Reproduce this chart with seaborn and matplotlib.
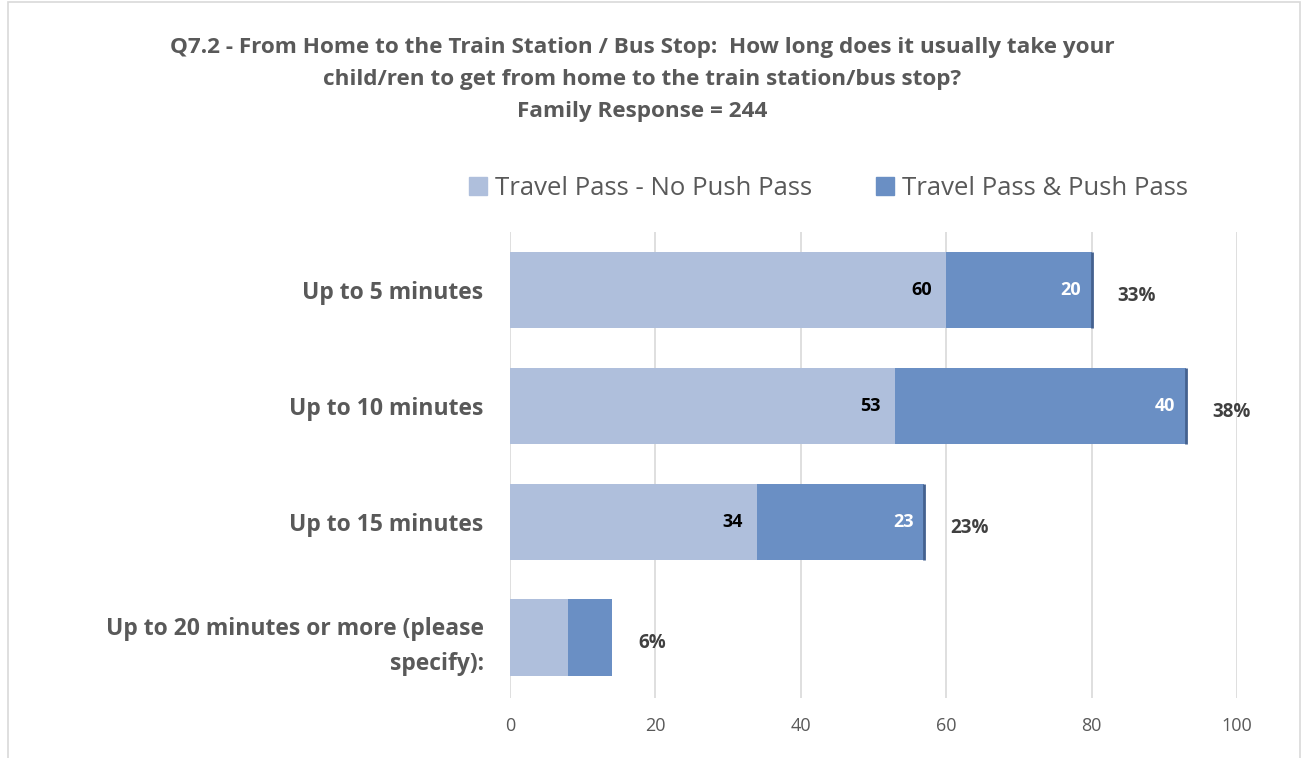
import numpy as np
import pandas as pd
import matplotlib.pyplot as plt
import seaborn as sns
from matplotlib.patches import Rectangle, Patch

# data
categories = ['Up to 5 minutes', 'Up to 10 minutes', 'Up to 15 minutes',
              'Up to 20 minutes or more (please\nspecify):']
no_push = [60, 53, 34, 8]
push = [20, 40, 23, 6]
pct_labels = ['33%', '38%', '23%', '6%']
series_names = ['Travel Pass - No Push Pass', 'Travel Pass & Push Pass']
xticks = [0, 20, 40, 60, 80, 100]

light = '#afbfdc'
dark = '#6a8fc4'
grey = '#595959'

sns.set_style('white')
plt.rcParams['font.family'] = ['Open Sans', 'DejaVu Sans']

df = pd.DataFrame({'cat': categories, 'no_push': no_push, 'push': push})
df['total'] = df['no_push'] + df['push']

fig = plt.figure(figsize=(13.05, 7.58), dpi=100)
ax = fig.add_axes([0.3908, 0.0792, 0.5571, 0.6148])

# stacked: total in dark, then light on top
sns.barplot(data=df, x='total', y='cat', color=dark, orient='h', width=0.66,
            saturation=1, linewidth=0, ax=ax, zorder=2)
sns.barplot(data=df, x='no_push', y='cat', color=light, orient='h', width=0.66,
            saturation=1, linewidth=0, ax=ax, zorder=3)

# thin dark edge at end of the bigger bars
for i, row in df.iterrows():
    if row['no_push'] > 20:
        ax.vlines(row['total'], i - 0.33, i + 0.33, color='#44618f', lw=2, zorder=4)

# data labels
for i, row in df.iterrows():
    if row['no_push'] > 20:
        ax.text(row['no_push'] - 2, i, str(row['no_push']), ha='right', va='center',
                fontsize=13, fontweight='bold', color='black', zorder=5)
        ax.text(row['total'] - 1.5, i, str(row['push']), ha='right', va='center',
                fontsize=13, fontweight='bold', color='white', zorder=5)
    ax.text(row['total'] + 3.6, i + 0.05, pct_labels[i], ha='left', va='center',
            fontsize=13.5, fontweight='bold', color='#404040', zorder=5)

ax.set_xlim(0, 100)
ax.set_ylim(3.52, -0.5)
ax.set_xticks(xticks)
ax.xaxis.grid(True, color='#d9d9d9', lw=1.2, zorder=0)
ax.set_axisbelow(True)
for s in ax.spines.values():
    s.set_visible(False)
ax.tick_params(axis='x', length=0, labelsize=13, labelcolor=grey, pad=14)
ax.tick_params(axis='y', length=0, labelsize=16.5, labelcolor=grey, pad=19)
for lab in ax.get_yticklabels():
    lab.set_fontweight('bold')
    lab.set_horizontalalignment('right')
    lab.set_linespacing(1.65)
ax.set_xlabel('')
ax.set_ylabel('')

fig.text(0.492, 0.951, 'Q7.2 - From Home to the Train Station / Bus Stop:  How long does it usually take your\n'
         'child/ren to get from home to the train station/bus stop?\nFamily Response = 244',
         ha='center', va='top', fontsize=16.2, fontweight='bold', color=grey, linespacing=1.68)

handles = [Patch(color=light, label=series_names[0]), Patch(color=dark, label=series_names[1])]
fig.legend(handles=handles, loc='center', bbox_to_anchor=(0.635, 0.751), ncol=2, frameon=False,
           fontsize=18.5, labelcolor=grey, handlelength=0.7, handleheight=0.7,
           handletextpad=0.3, columnspacing=2.5)

fig.patches.append(Rectangle((0.006, -0.01), 0.99, 1.007, transform=fig.transFigure,
                             fill=False, edgecolor='#d9d9d9', lw=1.2))

fig.savefig('out.png', dpi=100)
